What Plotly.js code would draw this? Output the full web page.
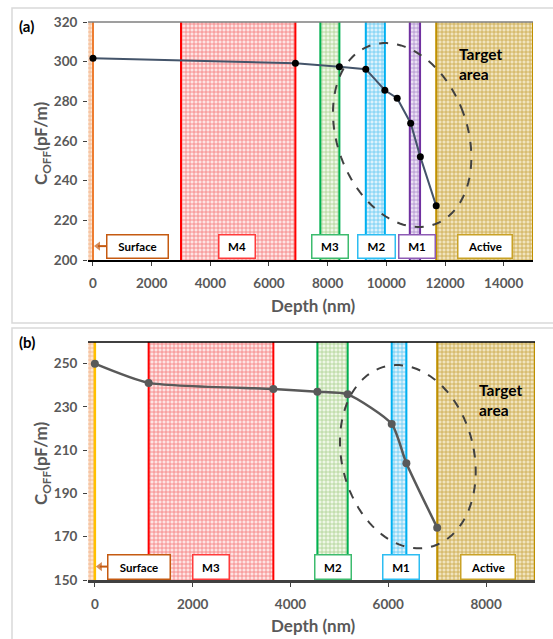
<!DOCTYPE html>
<html>
<head>
<meta charset="utf-8">
<script src="https://cdn.plot.ly/plotly-3.0.1.min.js"></script>
<style>html,body{margin:0;padding:0;background:#fff;}#chart{width:553px;height:639px;}</style>
</head>
<body>
<div id="chart"></div>
<script>
// ---------- Data ----------
const depthA = [0, 6900, 8400, 9300, 9950, 10370, 10830, 11160, 11700];
const coffA  = [301.7, 299.2, 297.5, 296.2, 285.6, 281.6, 269, 252, 227.3];
const layerNamesA = ['Surface', 'M4', 'M3', 'M2', 'M1', 'Active'];
const layerStartA = [-170, 3000, 7750, 9300, 10800, 11700];
const layerEndA   = [0, 6900, 8400, 9950, 11150, 15000];

const depthB = [0, 1100, 3650, 4550, 5170, 6070, 6370, 7000];
const coffB  = [250, 241.1, 238.3, 237, 235.8, 222.1, 204, 174.2];
const layerNamesB = ['Surface', 'M3', 'M2', 'M1', 'Active'];
const layerStartB = [-140, 1100, 4550, 6070, 7000];
const layerEndB   = [0, 3650, 5170, 6370, 9000];

const ticksXA = [0, 2000, 4000, 6000, 8000, 10000, 12000, 14000];
const ticksYA = [200, 220, 240, 260, 280, 300, 320];
const ticksXB = [0, 2000, 4000, 6000, 8000];
const ticksYB = [150, 170, 190, 210, 230, 250];

// ---------- Styles ----------
const W = 553, H = 639;
const FONT = 'Lato, "Open Sans", sans-serif';
const GRAY = '#595959';
const styles = {
  Surface: {edge: '#ED7D31', box: '#C55A11', fg: '#F4B183', bg: '#FCE6D6'},
  Red:     {edge: '#FF0000', box: '#FF3B3B', fg: '#F47A7A', bg: '#FDE4E4'},
  Green:   {edge: '#00B050', box: '#3DBB6E', fg: '#A9D18E', bg: '#EEF7E6'},
  Blue:    {edge: '#00B0F0', box: '#2DBDF2', fg: '#63C8F2', bg: '#DDF2FC'},
  Purple:  {edge: '#7030A0', box: '#8E5CB5', fg: '#A989CB', bg: '#EAE0F3'},
  Active:  {edge: '#BF9000', box: '#C9A227', fg: '#C9A443', bg: '#F1E4BE'}
};
const styleA = ['Surface', 'Red', 'Green', 'Blue', 'Purple', 'Active'];
const styleB = ['Surface', 'Red', 'Green', 'Blue', 'Active'];
const surfaceEdgeB = '#FFC000';

// pixel geometry of the plot areas
const geoA = {left: 88, right: 533, top: 22, bottom: 260, xr: [-170, 15000], yr: [200, 320]};
const geoB = {left: 88, right: 535, top: 342, bottom: 580, xr: [-140, 9000], yr: [150, 260]};

// label box placement (x centre in data units, widths in px)
const boxA = {y: 207, h: 22, xc: [1530, 4915, 8070, 9660, 11054, 13360], w: [60, 35, 35, 36, 35, 53]};
const boxB = {y: 156.2, h: 23, xc: [906, 2368, 4867, 6251, 8043], w: [61, 35, 35, 35, 53]};

const traces = [];
const shapes = [];
const annotations = [];

function dom(g) {
  return {
    x: [g.left / W, g.right / W],
    y: [1 - g.bottom / H, 1 - g.top / H]
  };
}

function addPanel(g, xa, ya, names, starts, ends, stl, depth, coff, isB, box) {
  const sx = (g.right - g.left) / (g.xr[1] - g.xr[0]);
  // layer bands (patterned bars)
  names.forEach((n, i) => {
    const s = styles[stl[i]];
    traces.push({
      type: 'bar', xaxis: xa, yaxis: ya,
      x: [(starts[i] + ends[i]) / 2], width: [ends[i] - starts[i]],
      base: [g.yr[0]], y: [g.yr[1] - g.yr[0]],
      marker: {color: s.bg, line: {width: 0},
        pattern: {shape: '+', fgcolor: s.fg, bgcolor: s.bg, size: 4, solidity: 0.35}},
      hoverinfo: 'skip', showlegend: false
    });
  });
  // band edges
  names.forEach((n, i) => {
    const s = styles[stl[i]];
    let edgeColor = s.edge;
    if (isB && stl[i] === 'Surface') edgeColor = surfaceEdgeB;
    const xs = [], ys = [];
    [starts[i], ends[i]].forEach(v => {
      if (v > g.xr[0] + 1) { xs.push(v, v, null); ys.push(g.yr[0], g.yr[1], null); }
    });
    traces.push({
      type: 'scatter', mode: 'lines', xaxis: xa, yaxis: ya, x: xs, y: ys,
      line: {color: edgeColor, width: (stl[i] === 'Surface' && isB) ? 2.5 : 2},
      hoverinfo: 'skip', showlegend: false, cliponaxis: false
    });
  });
  // surface arrow (from the Surface box towards the surface)
  const tail = box.xc[0] - (box.w[0] / 2 + 1) / sx;
  const tip = 5 / sx;
  traces.push({
    type: 'scatter', mode: 'lines+markers', xaxis: xa, yaxis: ya,
    x: [tail, tip], y: [box.y, box.y],
    line: {color: '#C55A11', width: 2},
    marker: {symbol: ['circle', 'triangle-left'], size: [0, 8], color: '#C55A11', line: {width: 0}},
    hoverinfo: 'skip', showlegend: false
  });
  // data line
  traces.push({
    type: 'scatter', mode: 'lines+markers', xaxis: xa, yaxis: ya,
    x: depth, y: coff,
    line: isB ? {color: GRAY, width: 2.5, shape: 'spline', smoothing: 0.6} : {color: '#44546A', width: 2},
    marker: isB ? {color: GRAY, size: 8} : {color: '#000000', size: 7},
    cliponaxis: false, hoverinfo: 'skip', showlegend: false
  });
  // label boxes
  names.forEach((n, i) => {
    const s = styles[stl[i]];
    annotations.push({
      xref: xa, yref: ya, x: box.xc[i], y: box.y, xanchor: 'center', yanchor: 'middle',
      text: '<b>' + n + '</b>',
      showarrow: false, width: box.w[i], height: box.h,
      bgcolor: '#FFFFFF', bordercolor: s.box, borderwidth: 1.5, borderpad: 0,
      font: {family: FONT, size: 11.5, color: '#000000'}
    });
  });
}

addPanel(geoA, 'x', 'y', layerNamesA, layerStartA, layerEndA, styleA, depthA, coffA, false, boxA);
addPanel(geoB, 'x2', 'y2', layerNamesB, layerStartB, layerEndB, styleB, depthB, coffB, true, boxB);

// dashed "target area" ellipses (centre in data units, semi-axes in px, tilt in degrees)
function ellipsePath(g, cx, cy, a, b, tiltDeg) {
  const sx = (g.right - g.left) / (g.xr[1] - g.xr[0]);
  const sy = (g.bottom - g.top) / (g.yr[1] - g.yr[0]);
  const th = tiltDeg * Math.PI / 180;
  let p = '';
  for (let k = 0; k <= 120; k++) {
    const t = 2 * Math.PI * k / 120;
    const u = a * Math.cos(t), v = b * Math.sin(t);
    const dx = u * Math.cos(th) - v * Math.sin(th);
    const dy = -u * Math.sin(th) - v * Math.cos(th);
    const X = cx + dx / sx, Y = cy - dy / sy;
    p += (k === 0 ? 'M ' : ' L ') + X.toFixed(2) + ',' + Y.toFixed(3);
  }
  return p + ' Z';
}
shapes.push({type: 'path', xref: 'x', yref: 'y', path: ellipsePath(geoA, 10540, 263, 65, 95, 20),
  line: {color: '#404040', width: 2, dash: 'dash'}});
shapes.push({type: 'path', xref: 'x2', yref: 'y2', path: ellipsePath(geoB, 6400, 207, 66, 93, 14),
  line: {color: '#404040', width: 2, dash: 'dash'}});

// top borders of plot areas
shapes.push({type: 'line', xref: 'x domain', yref: 'y domain', x0: 0, x1: 1, y0: 1, y1: 1, line: {color: '#7F7F7F', width: 1.5}});
shapes.push({type: 'line', xref: 'x2 domain', yref: 'y2 domain', x0: 0, x1: 1, y0: 1, y1: 1, line: {color: '#000000', width: 1.5}});

// panel frames
shapes.push({type: 'rect', xref: 'paper', yref: 'paper', x0: 12 / W, x1: 1.02, y0: 1 - 323 / H, y1: 1 - 8 / H,
  line: {color: '#D9D9D9', width: 1.5}, layer: 'below'});
shapes.push({type: 'rect', xref: 'paper', yref: 'paper', x0: 12 / W, x1: 1.02, y0: -0.02, y1: 1 - 328 / H,
  line: {color: '#D9D9D9', width: 1.5}, layer: 'below'});

// Target area texts
annotations.push({xref: 'x', yref: 'y', x: 12400, y: 298.8, xanchor: 'left', yanchor: 'middle', showarrow: false,
  text: '<b>Target<br>area</b>', align: 'left', font: {family: FONT, size: 15.5, color: '#000000'}});
annotations.push({xref: 'x2', yref: 'y2', x: 7806, y: 233.4, xanchor: 'left', yanchor: 'middle', showarrow: false,
  text: '<b>Target<br>area</b>', align: 'left', font: {family: FONT, size: 15.5, color: '#000000'}});

// panel letters
annotations.push({xref: 'paper', yref: 'paper', x: 17 / W, y: 1 - 26 / H, xanchor: 'left', yanchor: 'middle', showarrow: false,
  text: '<b>(a)</b>', font: {family: FONT, size: 15, color: '#000000'}});
annotations.push({xref: 'paper', yref: 'paper', x: 17 / W, y: 1 - 342 / H, xanchor: 'left', yanchor: 'middle', showarrow: false,
  text: '<b>(b)</b>', font: {family: FONT, size: 15, color: '#000000'}});

// axis titles
const yTitle = '<b>C<sub>OFF</sub>(pF/m)</b>';
annotations.push({xref: 'paper', yref: 'paper', x: 42 / W, y: 1 - 143 / H, xanchor: 'center', yanchor: 'middle',
  showarrow: false, textangle: -90, text: yTitle, font: {family: FONT, size: 17, color: GRAY}});
annotations.push({xref: 'paper', yref: 'paper', x: 42 / W, y: 1 - 463 / H, xanchor: 'center', yanchor: 'middle',
  showarrow: false, textangle: -90, text: yTitle, font: {family: FONT, size: 17, color: GRAY}});
annotations.push({xref: 'paper', yref: 'paper', x: 313 / W, y: 1 - 305 / H, xanchor: 'center', yanchor: 'middle',
  showarrow: false, text: '<b>Depth (nm)</b>', font: {family: FONT, size: 17, color: GRAY}});
annotations.push({xref: 'paper', yref: 'paper', x: 313 / W, y: 1 - 625 / H, xanchor: 'center', yanchor: 'middle',
  showarrow: false, text: '<b>Depth (nm)</b>', font: {family: FONT, size: 17, color: GRAY}});

const dA = dom(geoA), dB = dom(geoB);
const tickFont = {family: FONT, size: 13.5, color: GRAY, weight: 'bold'};
function xAxis(d, g, tv, anchor, lineColor, lineW) {
  return {domain: d.x, range: g.xr, anchor: anchor, tickmode: 'array', tickvals: tv,
    ticktext: tv.map(String), ticks: 'outside', ticklen: 4, tickcolor: '#404040', tickwidth: 1,
    showline: true, linecolor: lineColor, linewidth: lineW, showgrid: false, zeroline: false,
    tickfont: tickFont, ticklabelstandoff: 6, fixedrange: true};
}
function yAxis(d, g, tv, anchor) {
  return {domain: d.y, range: g.yr, anchor: anchor, tickmode: 'array', tickvals: tv,
    ticktext: tv.map(String), ticks: 'outside', ticklen: 4, tickcolor: '#404040', tickwidth: 1,
    showline: false, showgrid: false, zeroline: false, tickfont: tickFont, ticklabelstandoff: 3, fixedrange: true};
}

const layout = {
  width: W, height: H, margin: {l: 0, r: 0, t: 0, b: 0},
  paper_bgcolor: '#FFFFFF', plot_bgcolor: '#FFFFFF',
  barmode: 'overlay', bargap: 0, showlegend: false,
  xaxis: xAxis(dA, geoA, ticksXA, 'y', '#000000', 1.5),
  yaxis: yAxis(dA, geoA, ticksYA, 'x'),
  xaxis2: xAxis(dB, geoB, ticksXB, 'y2', '#404040', 2.5),
  yaxis2: yAxis(dB, geoB, ticksYB, 'x2'),
  shapes: shapes, annotations: annotations,
  font: {family: FONT}
};

Plotly.newPlot('chart', traces, layout, {displayModeBar: false, staticPlot: true});
</script>
</body>
</html>
